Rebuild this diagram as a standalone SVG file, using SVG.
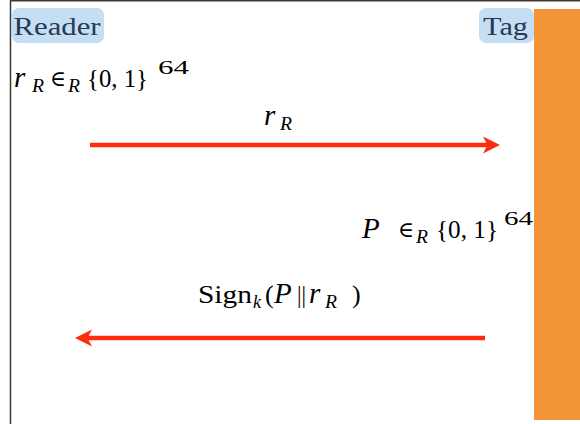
<svg xmlns="http://www.w3.org/2000/svg" width="580" height="424" viewBox="0 0 580 424">
  <style>
    .box { fill: #c4def3; }
    .lbl { font-family: "Liberation Serif", "Times New Roman", serif; font-size: 26px; fill: #263b52; }
    .m { font-family: "Liberation Serif", "Times New Roman", serif; font-size: 26px; fill: #000; }
    .i { font-style: italic; }
    .big { font-size: 29px; }
    .s { font-size: 18px; }
    .el { font-family: "DejaVu Serif", serif; font-size: 22px; }
    .msg { stroke: #fd2d0b; stroke-width: 4.5; fill: none; }
  </style>
  <defs>
    <marker id="ah" viewBox="-18 -10 18 20" refX="-10" refY="0" markerWidth="18" markerHeight="20" markerUnits="userSpaceOnUse" orient="auto">
      <path d="M0,0 L-17,-8.5 L-12.5,0 L-17,8.5 Z" fill="#fd2d0b"/>
    </marker>
  </defs>
  <rect x="0" y="0" width="580" height="424" fill="#fff"/>
  <path d="M10.5,424 V0.75 H580" fill="none" stroke="#3a3a3a" stroke-width="1.5"/>

  <g id="tag-lifeline">
    <rect x="534" y="9" width="46" height="411" fill="#f29437"/>
  </g>
  <g id="reader">
    <rect class="box" x="12" y="8" width="92" height="35" rx="7"/>
    <text class="lbl" x="13.5" y="35" textLength="87" lengthAdjust="spacingAndGlyphs">Reader</text>
  </g>
  <g id="tag">
    <rect class="box" x="479" y="8" width="55" height="35" rx="7"/>
    <text class="lbl" x="483" y="35" textLength="45" lengthAdjust="spacingAndGlyphs">Tag</text>
  </g>

  <g id="reader-nonce">
    <text class="m i big" x="14" y="87">r</text>
    <text class="m i s" x="32" y="92" textLength="12" lengthAdjust="spacingAndGlyphs">R</text>
    <text class="m el" x="50" y="86" textLength="16" lengthAdjust="spacingAndGlyphs">∈</text>
    <text class="m i s" x="68" y="92" textLength="12" lengthAdjust="spacingAndGlyphs">R</text>
    <text class="m" x="87" y="87" textLength="61" lengthAdjust="spacingAndGlyphs">{0, 1}</text>
    <text class="m s" x="158" y="74" textLength="31" lengthAdjust="spacingAndGlyphs">64</text>
  </g>
  <g id="tag-nonce">
    <text class="m i big" x="362" y="238">P</text>
    <text class="m el" x="398" y="237" textLength="16" lengthAdjust="spacingAndGlyphs">∈</text>
    <text class="m i s" x="416" y="243" textLength="12" lengthAdjust="spacingAndGlyphs">R</text>
    <text class="m" x="436" y="238" textLength="62" lengthAdjust="spacingAndGlyphs">{0, 1}</text>
    <text class="m s" x="504" y="225" textLength="29" lengthAdjust="spacingAndGlyphs">64</text>
  </g>

  <g id="connectors">
    <line class="msg" x1="90" y1="145" x2="490" y2="145" marker-end="url(#ah)"/>
    <line class="msg" x1="485" y1="338" x2="85" y2="338" marker-end="url(#ah)"/>
  </g>
  <g id="connector-labels">
    <text class="m i big" x="264" y="125">r</text>
    <text class="m i s" x="280" y="130" textLength="12" lengthAdjust="spacingAndGlyphs">R</text>
    <text class="m" x="198" y="303" textLength="54" lengthAdjust="spacingAndGlyphs">Sign</text>
    <text class="m i s" x="253" y="308">k</text>
    <text class="m" x="265" y="303">(</text>
    <text class="m i big" x="274" y="303">P</text>
    <text class="m" x="297" y="303" textLength="9" lengthAdjust="spacingAndGlyphs">||</text>
    <text class="m i big" x="309" y="303">r</text>
    <text class="m i s" x="325" y="308" textLength="12" lengthAdjust="spacingAndGlyphs">R</text>
    <text class="m" x="352" y="303">)</text>
  </g>
</svg>
